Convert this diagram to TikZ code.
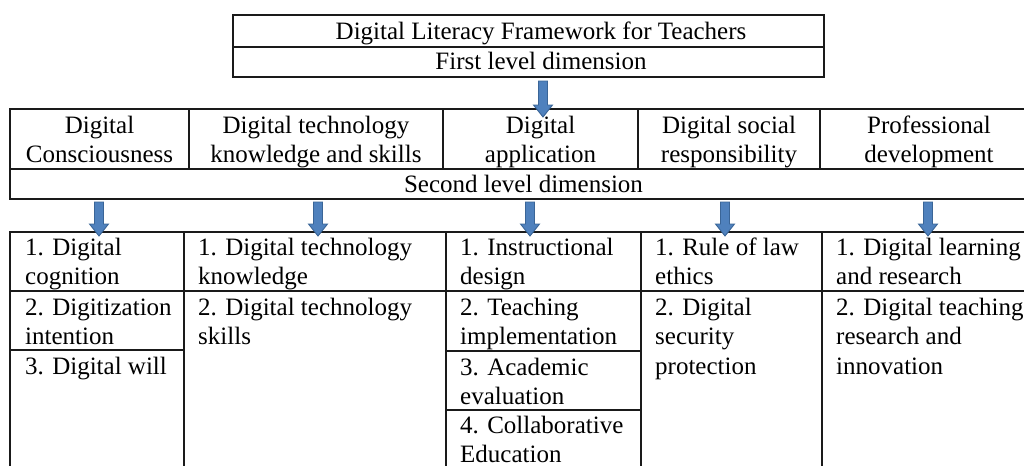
\documentclass[tikz,border=0pt]{standalone}
\usepackage{fontspec}
\setmainfont{Liberation Serif}
\usetikzlibrary{calc}
\definecolor{arrfill}{HTML}{4F81BD}
\definecolor{arrline}{HTML}{3A6597}
\definecolor{rulecol}{HTML}{1A1A1A}
\newcommand\cellL[1]{\begin{tabular}[t]{@{}l@{}}#1\end{tabular}}
\newcommand\cellC[1]{\begin{tabular}[t]{@{}c@{}}#1\end{tabular}}
\newcommand\blkarrow[2]{\draw[blk] let \p1=(#1), \p2=(#2) in
  (\x1-4.5pt,\y1) -- (\x1+4.5pt,\y1) -- (\x1+4.5pt,\y2+12pt) -- (\x1+9.5pt,\y2+12pt)
  -- (\x2,\y2) -- (\x1-9.5pt,\y2+12pt) -- (\x1-4.5pt,\y2+12pt) -- cycle;}
\begin{document}
\begin{tikzpicture}[x=1pt,y=-1pt,
  txt/.style={inner sep=0pt, font=\fontsize{25}{29.5}\selectfont, text=black},
  tl/.style={txt, anchor=base west},
  tc/.style={txt, anchor=base},
  rule/.style={draw=rulecol, line width=1.2pt},
  blk/.style={fill=arrfill, draw=arrline, line width=0.9pt, line join=miter}
]
\useasboundingbox (0,0) rectangle (1024,466);

% header table
\draw[rule] (233,15) rectangle (824,77);
\draw[rule] (233,47) -- (824,47);

% first level table
\draw[rule] (1024,109) -- (10,109) -- (10,199) -- (1024,199);
\draw[rule] (10,169) -- (1024,169);
\foreach \xx in {189,443,638,820} \draw[rule] (\xx,109) -- (\xx,169);

% second level table
\draw[rule] (1024,232) -- (10,232) -- (10,466);
\foreach \xx in {184,446,641,822} \draw[rule] (\xx,232) -- (\xx,466);
\draw[rule] (10,291) -- (1024,291);
\draw[rule] (10,350) -- (184,350);
\draw[rule] (446,351) -- (641,351);
\draw[rule] (446,410) -- (641,410);

% texts
\node[tc] (title) at (541,39.5) {Digital Literacy Framework for Teachers};
\node[tc] (first) at (541,69.5) {First level dimension};
\node[tc] (d1) at (99.5,133) {\cellC{Digital\\Consciousness}};
\node[tc] (d2) at (316,133) {\cellC{Digital technology\\knowledge and skills}};
\node[tc] (d3) at (540.5,133) {\cellC{Digital\\application}};
\node[tc] (d4) at (729,133) {\cellC{Digital social\\responsibility}};
\node[tc] (d5) at (929,133) {\cellC{Professional\\development}};
\node[tc] (second) at (523.5,192) {Second level dimension};

\node[tl] (c1a) at (25,255) {\cellL{1. Digital\\cognition}};
\node[tl] (c1b) at (25,315) {\cellL{2. Digitization\\intention}};
\node[tl] (c1c) at (25,374.5) {3. Digital will};
\node[tl] (c2a) at (198,255) {\cellL{1. Digital technology\\knowledge}};
\node[tl] (c2b) at (198,315) {\cellL{2. Digital technology\\skills}};
\node[tl] (c3a) at (460,255) {\cellL{1. Instructional\\design}};
\node[tl] (c3b) at (460,315) {\cellL{2. Teaching\\implementation}};
\node[tl] (c3c) at (460,375) {\cellL{3. Academic\\evaluation}};
\node[tl] (c3d) at (460,433) {\cellL{4. Collaborative\\Education}};
\node[tl] (c4a) at (655,255) {\cellL{1. Rule of law\\ethics}};
\node[tl] (c4b) at (655,315) {\cellL{2. Digital\\security\\protection}};
\node[tl] (c5a) at (836,255) {\cellL{1. Digital learning\\and research}};
\node[tl] (c5b) at (836,315) {\cellL{2. Digital teaching\\research and\\innovation}};

% arrows
\coordinate (a0s) at (543,81);  \coordinate (a0e) at (543,117);
\coordinate (a1s) at (99,202);  \coordinate (a1e) at (99,236);
\coordinate (a2s) at (318,202); \coordinate (a2e) at (318,236);
\coordinate (a3s) at (530,202); \coordinate (a3e) at (530,236);
\coordinate (a4s) at (725,202); \coordinate (a4e) at (725,236);
\coordinate (a5s) at (928,202); \coordinate (a5e) at (928,236);
\blkarrow{a0s}{a0e}
\blkarrow{a1s}{a1e}
\blkarrow{a2s}{a2e}
\blkarrow{a3s}{a3e}
\blkarrow{a4s}{a4e}
\blkarrow{a5s}{a5e}
\end{tikzpicture}
\end{document}
